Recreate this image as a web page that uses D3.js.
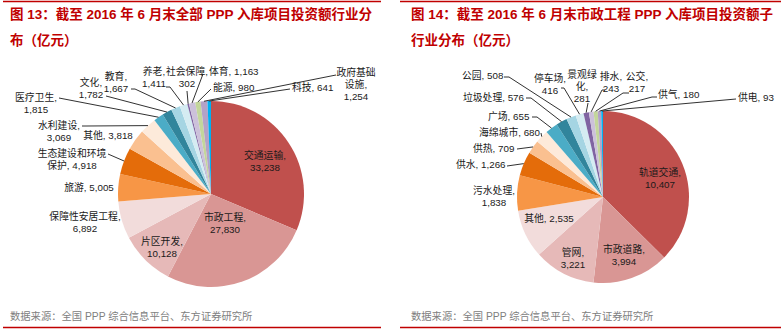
<!DOCTYPE html>
<html><head><meta charset="utf-8">
<script src="https://cdn.jsdelivr.net/npm/d3@7"></script>
<style>body{margin:0;background:#fff} svg{display:block}</style>
</head><body><svg id="c" width="782" height="332"></svg>
<script>
// ---------- DATA ----------
const leftCategories = ["交通运输","市政工程","片区开发","保障性安居工程","旅游","生态建设和环境保护","其他","水利建设","医疗卫生","文化","教育","养老","社会保障","体育","能源","政府基础设施","科技"];
const leftValues = [33238,27830,10128,6892,5005,4918,3818,3069,1815,1782,1667,1411,302,1163,980,1254,641];
const rightCategories = ["轨道交通","市政道路","管网","其他","污水处理","供水","供热","海绵城市","广场","垃圾处理","公园","停车场","景观绿化","排水","公交","供气","供电"];
const rightValues = [10407,3994,3221,2535,1838,1266,709,680,655,576,508,416,281,243,217,180,93];
const leftTitle = ["图 13：截至 2016 年 6 月末全部 PPP 入库项目投资额行业分","布（亿元）"];
const rightTitle = ["图 14：截至 2016 年 6 月末市政工程 PPP 入库项目投资额子","行业分布（亿元）"];
const sourceText = "数据来源：全国 PPP 综合信息平台、东方证券研究所";

// ---------- STYLE / LAYOUT ----------
const sliceColors = ["#C0504D","#D99694","#E6B9B8","#F2DCDB","#F79646","#E46C0A","#FAC090","#FDEADA","#4BACC6","#31859C","#A5D5E3","#D5ECF2","#8064A2","#CCC1DA","#C3D69B","#B3A2C7","#00B0F0"];
// label layout: x,y = first line centre; a = anchor; m = line mode; lead = leader start points
const leftLayout = [
  {x:265,y:155,a:"middle",m:"2"},
  {x:225,y:217,a:"middle",m:"2"},
  {x:162,y:241,a:"middle",m:"2"},
  {x:85,y:216,a:"middle",m:"2"},
  {x:89,y:187,a:"middle",m:"1"},
  {x:72,y:153,a:"middle",m:"s",k:7,r:"1",lead:[[108,154]]},
  {x:108,y:135,a:"middle",m:"1"},
  {x:59,y:125,a:"middle",m:"2",lead:[[82,126],[86,126]]},
  {x:36,y:97,a:"middle",m:"2",lead:[[59,98]]},
  {x:91,y:82,a:"middle",m:"2",lead:[[106,96]]},
  {x:116,y:76,a:"middle",m:"2",lead:[[131,89],[135,89]]},
  {x:154,y:71,a:"middle",m:"2",lead:[[166,87],[170,87]]},
  {x:187,y:71,a:"middle",m:"2",lead:[[187,91]]},
  {x:209,y:71,a:"start",m:"1",lead:[[203,74]]},
  {x:213,y:87,a:"start",m:"1",lead:[[211,89]]},
  {x:356,y:72,a:"middle",m:"s",k:4,r:"2",lead:[[336,75]]},
  {x:292,y:87,a:"start",m:"1",lead:[[290,89]]}
];
const rightLayout = [
  {x:660,y:172,a:"middle",m:"2"},
  {x:624,y:249,a:"middle",m:"2"},
  {x:573,y:252,a:"middle",m:"2"},
  {x:549,y:218,a:"middle",m:"1"},
  {x:494,y:190,a:"middle",m:"2"},
  {x:456,y:164,a:"start",m:"1",lead:[[507,166]]},
  {x:473,y:148,a:"start",m:"1",lead:[[517,149]]},
  {x:479,y:132,a:"start",m:"1",lead:[[541,133]]},
  {x:488,y:116,a:"start",m:"1",lead:[[532,117],[537,117]]},
  {x:463,y:97,a:"start",m:"1",lead:[[526,98],[531,98]]},
  {x:462,y:75,a:"start",m:"1",lead:[[504,77],[509,77]]},
  {x:550,y:78,a:"middle",m:"2",lead:[[561,88],[564,88]]},
  {x:582,y:74,a:"middle",m:"s",k:3,r:"2",lead:[[588,103]]},
  {x:611,y:76,a:"middle",m:"2",lead:[[605,90],[602,90]]},
  {x:637,y:76,a:"middle",m:"2",lead:[[629,93],[623,93]]},
  {x:658,y:94,a:"start",m:"1",lead:[[657,97],[652,97]]},
  {x:738,y:97,a:"start",m:"1",lead:[[736,99]]}
];

const svg = d3.select("#c");
const fmt = d3.format(",");
const labelFont = "'Liberation Sans', Arial, 'Noto Sans CJK SC', sans-serif";

function makeLines(name, v, L){
  const vs = fmt(v);
  if (L.m === "1") return [name + ", " + vs];
  if (L.m === "2") return [name + ",", vs];
  const head = name.slice(0, L.k), rest = name.slice(L.k);
  return L.r === "1" ? [head, rest + ", " + vs] : [head, rest + ",", vs];
}

function drawPanel(cats, vals, layout, cx, cy, R, title, tx, frame){
  const g = svg.append("g");
  g.append("line").attr("x1",frame[0]).attr("x2",frame[1]).attr("y1",1.5).attr("y2",1.5)
    .attr("stroke","#C00000").attr("stroke-width",1.5);
  g.append("line").attr("x1",frame[0]).attr("x2",frame[1]).attr("y1",327.5).attr("y2",327.5)
    .attr("stroke","#C00000").attr("stroke-width",1.5);
  title.forEach((t,i)=>{
    g.append("text").attr("x",tx).attr("y",19 + i*26).text(t)
      .attr("font-family","'Liberation Sans', Arial, 'Noto Sans CJK SC', sans-serif")
      .attr("font-weight","bold").attr("font-size","13.5px").attr("fill","#C00000");
  });
  g.append("text").attr("x",tx).attr("y",320).text(sourceText)
    .attr("font-family",labelFont).attr("font-size","10.3px").attr("fill","#808080");

  const data = cats.map((c,i)=>({name:c, value:vals[i], i}));
  const pie = d3.pie().sort(null).value(d=>d.value).startAngle(0).endAngle(2*Math.PI);
  const arcs = pie(data);
  const arc = d3.arc().innerRadius(0).outerRadius(R);
  const edge = d3.arc().innerRadius(R).outerRadius(R);
  const pg = g.append("g").attr("transform",`translate(${cx},${cy})`);
  pg.selectAll("path").data(arcs).join("path")
    .attr("d",arc).attr("fill",d=>sliceColors[d.data.i]);

  arcs.forEach(d=>{
    const L = layout[d.data.i];
    if (!L.lead) return;
    const c = edge.centroid(d);
    const pts = L.lead.concat([[cx + c[0], cy + c[1]]]);
    g.append("path").attr("d", d3.line()(pts)).attr("fill","none")
      .attr("stroke","#1a1a1a").attr("stroke-width",0.9);
  });
  arcs.forEach(d=>{
    const L = layout[d.data.i];
    const lines = makeLines(d.data.name, d.data.value, L);
    const t = g.append("text").attr("font-family",labelFont).attr("font-size","9.8px")
      .attr("fill","#1a1a1a").attr("text-anchor",L.a);
    lines.forEach((s,j)=>{
      t.append("tspan").attr("x",L.x).attr("y",L.y + 3.5 + j*12).text(s);
    });
  });
}

drawPanel(leftCategories, leftValues, leftLayout, 211, 194, 93, leftTitle, 10, [3,381]);
drawPanel(rightCategories, rightValues, rightLayout, 603, 197, 86, rightTitle, 411, [400,781]);
</script>
</body></html>
